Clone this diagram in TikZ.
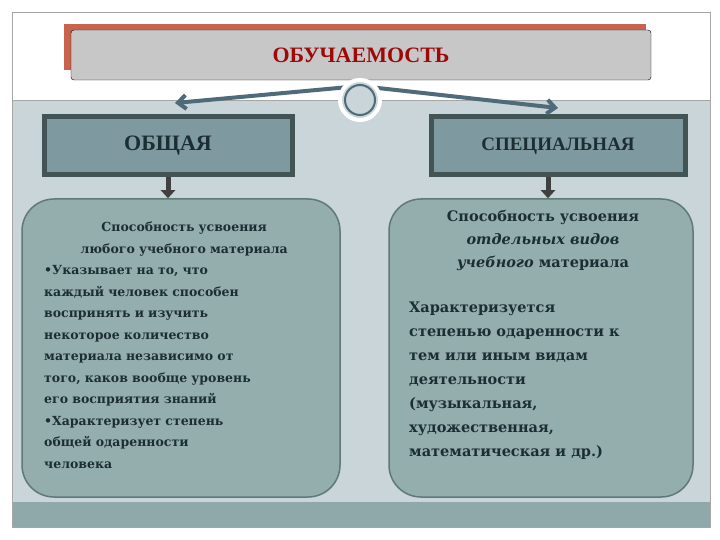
\documentclass[tikz,border=0pt]{standalone}
\usepackage{fontspec}
\setmainfont{Liberation Serif}
\newfontfamily\bodyfont{DejaVu Serif}
\usetikzlibrary{arrows.meta}
\definecolor{bgl}{HTML}{C9D5D9}
\definecolor{strip}{HTML}{8FA9AA}
\definecolor{boxf}{HTML}{94ADAD}
\definecolor{boxd}{HTML}{5F7878}
\definecolor{hdr}{HTML}{7F99A1}
\definecolor{arr}{HTML}{4F6A78}
\definecolor{txt}{HTML}{1C2E33}
\definecolor{ttl}{HTML}{A00808}
\definecolor{shd}{HTML}{C8644E}
\tikzset{
 hdrbox/.style={draw=boxd!70!black,fill=hdr,line width=5pt,minimum width=248pt,minimum height=58pt,font=\bfseries\fontsize{22}{24}\selectfont,text=txt},
 bigbox/.style={draw=boxd,fill=boxf,line width=1.5pt,rounded corners=32pt,text=txt,font=\bfseries},
 down/.style={-{Triangle[length=8pt,width=14pt]},line width=5pt,color=black!75},
 conn/.style={-{Straight Barb[length=8pt,width=14pt]},line width=4pt,color=arr}
}
\begin{document}
\begin{tikzpicture}[x=1pt,y=-1pt]
\useasboundingbox (0,0) rectangle (720,540);
\fill[white] (0,0) rectangle (720,540);
\draw[gray!70,fill=bgl] (12,100) rectangle (710,527);
\fill[strip] (12,502) rectangle (710,527);
\draw[gray!70] (12,12) rectangle (710,527);
% title
\fill[shd] (64,24) rectangle (646,70);
\node[draw=black,fill=black!22,rounded corners=3pt,minimum width=580pt,minimum height=50pt,text=ttl,font=\bfseries\fontsize{22}{24}\selectfont] (t) at (361,55) {ОБУЧАЕМОСТЬ};
% headers
\node[hdrbox] (a) at (168,146) {ОБЩАЯ};
\node[hdrbox,minimum width=254pt,font=\bfseries\fontsize{19}{22}\selectfont] (b) at (558,146) {СПЕЦИАЛЬНАЯ};
\coordinate (o) at (360,86);
\draw[conn] (o) -- (175,103);
\draw[conn] (o) -- (558,108);
\node[circle,draw=white,line width=4pt,fill=bgl,minimum size=40pt] (c) at (360,100) {};
\node[circle,draw=arr,line width=2pt,minimum size=30pt] at (c) {};
% big boxes
\node[bigbox,minimum width=318pt,minimum height=298pt] (l) at (181,348) {};
\node[bigbox,minimum width=304pt,minimum height=298pt] (r) at (541,348) {};
\draw[down] (a.south) -- (a.south |- l.north);
\draw[down] ([xshift=-10pt]b.south) -- ([xshift=-10pt]b.south |- r.north);
\node[anchor=north west,text=txt,font=\bodyfont\bfseries\fontsize{12.5}{21.5}\selectfont,inner sep=0pt,text width=280pt] at (44,222) {\centering Способность усвоения\\ любого учебного материала\par\raggedright
•Указывает на то, что\\ каждый человек способен\\ воспринять и изучить\\ некоторое количество\\ материала независимо от\\ того, каков вообще уровень\\ его восприятия знаний\\ •Характеризует степень\\ общей одаренности\\ человека\par};
\node[anchor=north,text=txt,font=\bodyfont\bfseries\fontsize{14.5}{23}\selectfont,align=center,inner sep=0pt] at (543,210) {Способность усвоения\\ \textit{отдельных видов}\\ \textit{учебного} материала};
\node[anchor=north west,text=txt,font=\bodyfont\bfseries\fontsize{14.5}{24}\selectfont,align=left,inner sep=0pt] at (409,302) {Характеризуется\\ степенью одаренности к\\ тем или иным видам\\ деятельности\\ (музыкальная,\\ художественная,\\ математическая и др.)};
\end{tikzpicture}
\end{document}
